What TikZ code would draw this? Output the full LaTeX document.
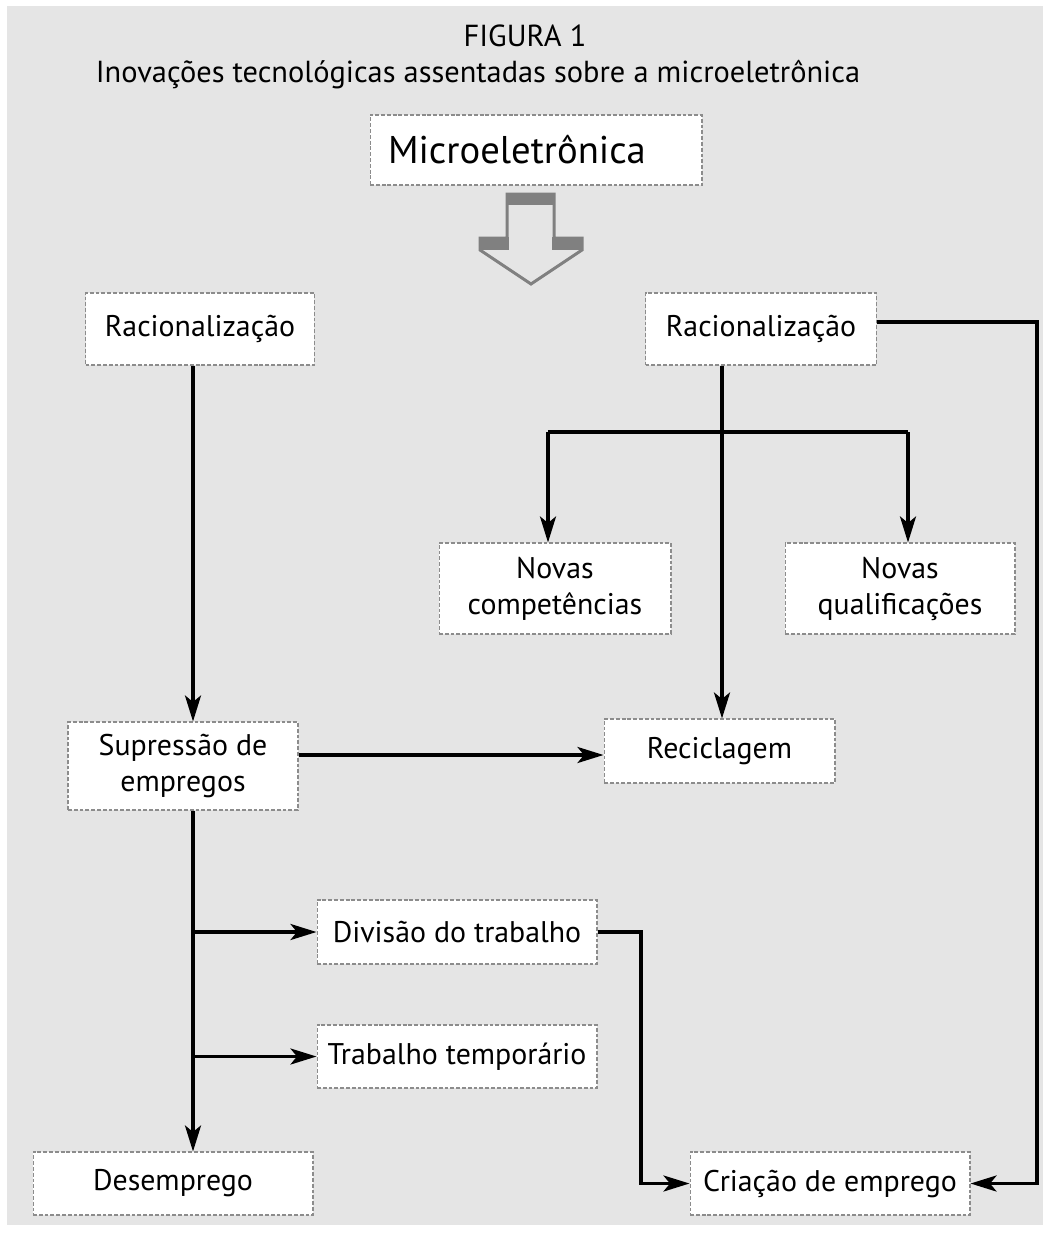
\documentclass[tikz,border=0pt]{standalone}
\usepackage{fontspec}
\setmainfont{PT Sans}
\usetikzlibrary{arrows.meta}

\definecolor{panelgray}{HTML}{E5E5E5}
\definecolor{framegray}{HTML}{8C8C8C}
\definecolor{blockgray}{HTML}{808080}

\tikzset{
  stagebox/.style={draw=framegray, fill=white, line width=0.6pt,
    dash pattern=on 2.2pt off 1.1pt, inner sep=0pt, align=center,
    font=\fontsize{17}{20.5}\selectfont},
  flow/.style={line width=2pt, -{Stealth[length=5.2mm,width=3.2mm,inset=1.3mm]}},
  joint/.style={line width=2pt},
}

\begin{document}
\begin{tikzpicture}[x=0.02cm, y=-0.02cm]

    % Page and grey panel
    \useasboundingbox (0,0) rectangle (1050,1233);
    \fill[panelgray] (7,6) rectangle (1043,1225);

    % Title lines
    \node[anchor=base, font=\fontsize{17.3}{20}\selectfont] (fig) at (525,47) {FIGURA 1};
    \node[anchor=base, font=\fontsize{17.3}{20}\selectfont] (caption) at (478,83)
        {Inovações tecnológicas assentadas sobre a microeletrônica};

    % Top box
    \node[stagebox, text width=5.92cm, inner xsep=0.36cm, align=left,
          minimum height=1.4cm, font=\fontsize{22}{26}\selectfont]
          (micro) at (536,150) {Microeletrônica};

    % Hollow block arrow below the top box
    \draw[blockgray, line width=1.7pt, line join=miter]
        (507,194) -- (554,194) -- (554,238) -- (582,238) -- (582,250)
        -- (531,284) -- (480,250) -- (480,238) -- (507,238) -- cycle;
    \fill[blockgray] (506,193) rectangle (555,205);
    \fill[blockgray] (479,237) rectangle (509,250);
    \fill[blockgray] (552,237) rectangle (583,250);

    % Boxes
    \node[stagebox, minimum width=4.58cm, minimum height=1.44cm] (racL) at (200,329) {Racionalização};
    \node[stagebox, minimum width=4.62cm, minimum height=1.44cm] (racR) at (761,329) {Racionalização};
    \node[stagebox, minimum width=4.64cm, minimum height=1.82cm] (novC) at (555,588.5) {Novas\\competências};
    \node[stagebox, minimum width=4.60cm, minimum height=1.82cm] (novQ) at (900,588.5) {Novas\\qualificações};
    \node[stagebox, minimum width=4.60cm, minimum height=1.76cm] (supr) at (183,766) {Supressão de\\empregos};
    \node[stagebox, minimum width=4.62cm, minimum height=1.28cm] (recic) at (719.5,751) {Reciclagem};
    \node[stagebox, minimum width=5.60cm, minimum height=1.28cm] (divis) at (457,932) {Divisão do trabalho};
    \node[stagebox, minimum width=5.60cm, minimum height=1.26cm] (temp) at (457,1056.5) {Trabalho temporário};
    \node[stagebox, minimum width=5.60cm, minimum height=1.26cm] (desemp) at (173,1183.5) {Desemprego};
    \node[stagebox, minimum width=5.60cm, minimum height=1.26cm] (criac) at (830,1183.5) {Criação de emprego};

    % Columns and rows used by the connectors
    \coordinate (colL) at (193,0);
    \coordinate (colR) at (722,0);
    \coordinate (colFar) at (1037,0);
    \coordinate (colDiv) at (641,0);
    \coordinate (brL) at (548,432);
    \coordinate (brR) at (908,432);
    \coordinate (rowSup) at (0,755);

    % Left column
    \draw[flow] (racL.south -| colL) -- (supr.north -| colL);
    \draw[flow] (supr.south -| colL) -- (desemp.north -| colL);
    \draw[flow] (divis.west -| colL) -- (divis.west);
    \draw[flow] (temp.west -| colL) -- (temp.west);
    \draw[flow] (supr.east |- rowSup) -- (recic.west |- rowSup);

    % Right column
    \draw[flow] (racR.south -| colR) -- (recic.north -| colR);
    \draw[joint] (brL) -- (brR);
    \draw[flow] (brL) -- (novC.north -| brL);
    \draw[flow] (brR) -- (novQ.north -| brR);

    % Routes into job creation
    \draw[flow] ([yshift=0.14cm]racR.east) -| (colFar |- criac.east) -- (criac.east);
    \draw[flow] (divis.east) -| (colDiv |- criac.west) -- (criac.west);

\end{tikzpicture}
\end{document}
